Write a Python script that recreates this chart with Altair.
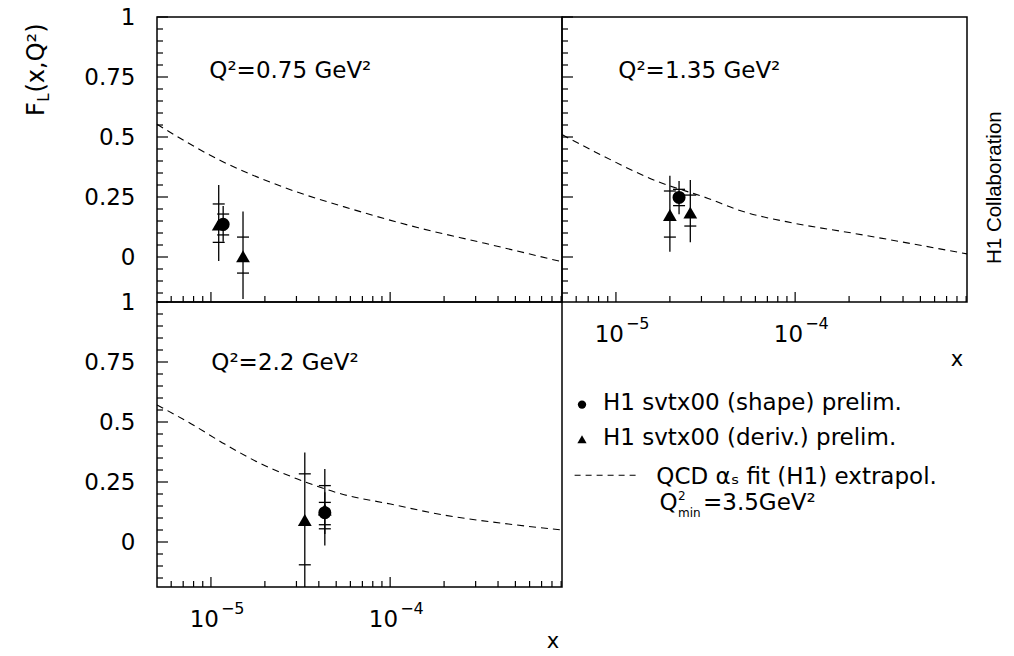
import altair as alt
import pandas as pd

# ---------------- data ----------------
X_DOMAIN = [5e-6, 9.1e-4]
Y_DOMAIN = [-0.1875, 1.0]
W, H = 405, 285

PANEL_IDS = ["a", "b", "c"]
PANEL_TEXT = ["Q²=0.75 GeV²", "Q²=1.35 GeV²", "Q²=2.2 GeV²"]

# dashed QCD fit curves
curve_a_x = [5e-6, 1.143e-5, 2.58e-5, 6.08e-5, 1.436e-4, 3.38e-4, 9.1e-4]
curve_a_y = [0.553, 0.40, 0.289, 0.20, 0.122, 0.057, -0.02]
curve_b_x = [5e-6, 7.6e-6, 1.718e-5, 3.27e-5, 4.81e-5, 1.0e-4, 2.07e-4, 9.1e-4]
curve_b_y = [0.51, 0.439, 0.314, 0.244, 0.196, 0.14, 0.10, 0.013]
curve_c_x = [5e-6, 7.78e-6, 1.194e-5, 1.832e-5, 3.04e-5, 5.36e-5, 1.005e-4, 1.936e-4, 4.57e-4, 9.1e-4]
curve_c_y = [0.571, 0.492, 0.408, 0.332, 0.2625, 0.20, 0.158, 0.114, 0.075, 0.05]

# measurements
pt_panel = ["a", "a", "a", "b", "b", "b", "c", "c", "c"]
pt_series = ["deriv", "shape", "deriv", "deriv", "shape", "deriv", "deriv", "deriv", "shape"]
pt_x = [1.105e-5, 1.17e-5, 1.51e-5, 2.0e-5, 2.25e-5, 2.6e-5, 3.34e-5, 4.32e-5, 4.32e-5]
pt_y = [0.135, 0.136, 0.003, 0.175, 0.248, 0.185, 0.092, 0.135, 0.122]
pt_tot_lo = [-0.017, 0.064, -0.175, 0.022, 0.178, 0.061, -0.19, -0.015, 0.033]
pt_tot_hi = [0.30, 0.2125, 0.19, 0.339, 0.317, 0.321, 0.373, 0.304, 0.207]
pt_stat_lo = [0.061, 0.092, -0.067, 0.083, 0.214, 0.129, -0.095, 0.055, 0.072]
pt_stat_hi = [0.221, 0.179, 0.083, 0.275, 0.282, 0.258, 0.284, 0.235, 0.165]

# axis ticks and tick labels
Y_MAJOR = [0, 0.25, 0.5, 0.75, 1.0]
Y_MINOR = [-0.15, -0.1, -0.05, 0.05, 0.1, 0.15, 0.2, 0.3, 0.35, 0.4, 0.45,
           0.55, 0.6, 0.65, 0.7, 0.8, 0.85, 0.9, 0.95]
X_MAJOR = [1e-5, 1e-4]
X_LABEL_BASE = ["10", "10"]
X_LABEL_EXP = ["−5", "−4"]
X_MINOR = [6e-6, 7e-6, 8e-6, 9e-6,
           2e-5, 3e-5, 4e-5, 5e-5, 6e-5, 7e-5, 8e-5, 9e-5,
           2e-4, 3e-4, 4e-4, 5e-4, 6e-4, 7e-4, 8e-4, 9e-4]

LEGEND_TEXT = ["H1 svtx00 (shape) prelim.", "H1 svtx00 (deriv.) prelim."]
FIT_TEXT = "QCD αₛ fit (H1) extrapol."
QMIN_TEXT = ["Q", "2", "min", "=3.5GeV²"]
YTITLE = ["F", "L", "(x,Q²)"]
SIDE_TEXT = "H1 Collaboration"
XTITLE = "x"

points = pd.DataFrame({
    "panel": pt_panel, "series": pt_series, "x": pt_x, "y": pt_y,
    "tot_lo": pt_tot_lo, "tot_hi": pt_tot_hi,
    "stat_lo": pt_stat_lo, "stat_hi": pt_stat_hi,
})
xlabels = pd.DataFrame({"v": X_MAJOR, "base": X_LABEL_BASE, "exp": X_LABEL_EXP})

FONT = "DejaVu Sans"


def txt(s, x, y, size, align="left", angle=0, font=FONT, baseline="alphabetic"):
    kw = dict(align=align, baseline=baseline, font=font, fontSize=size, color="black")
    if angle:
        kw["angle"] = angle
    return alt.Chart(pd.DataFrame({"t": [s]})).mark_text(**kw).encode(
        x=alt.value(x), y=alt.value(y), text="t:N")


def panel(i, cx, cy, x_labels, y_labels, qpos, extras):
    pid = PANEL_IDS[i]
    xsc = alt.Scale(type="log", domain=X_DOMAIN, nice=False)
    ysc = alt.Scale(domain=Y_DOMAIN, nice=False, zero=False)
    if y_labels:
        yax = alt.Axis(values=Y_MAJOR, format=".2~f", ticks=False, tickSize=0, domain=False,
                       grid=False, labelPadding=22, labelFont=FONT, labelFontSize=23,
                       labelColor="black", labelFlush=False, labelOverlap=False, title="")
    else:
        yax = None

    def X(f):
        return alt.X(f, scale=xsc, axis=None)

    def Y(f):
        return alt.Y(f, scale=ysc, axis=yax)

    cdf = pd.DataFrame({"x": cx, "y": cy})
    curve = alt.Chart(cdf).mark_line(color="black", strokeWidth=1.1, strokeDash=[7, 5],
                                     interpolate="monotone").encode(x=X("x:Q"), y=Y("y:Q"))
    pdf = points[points.panel == pid]
    bars = alt.Chart(pdf).mark_rule(color="black", strokeWidth=1.3, clip=True).encode(
        x=X("x:Q"), y=Y("tot_lo:Q"), y2="tot_hi:Q")
    caps = alt.Chart(pdf).transform_fold(["stat_lo", "stat_hi"], as_=["k", "v"]).mark_point(
        shape="stroke", filled=False, size=144, strokeWidth=1.3, color="black", opacity=1
    ).encode(x=X("x:Q"), y=Y("v:Q"))
    circ = alt.Chart(pdf).transform_filter(alt.datum.series == "shape").mark_point(
        shape="circle", filled=True, size=170, color="black", opacity=1
    ).encode(x=X("x:Q"), y=Y("y:Q"))
    tri = alt.Chart(pdf).transform_filter(alt.datum.series == "deriv").mark_point(
        shape="triangle-up", filled=True, size=190, color="black", opacity=1
    ).encode(x=X("x:Q"), y=Y("y:Q"))

    ymaj = alt.Chart(pd.DataFrame({"v": Y_MAJOR})).mark_rule(color="black", strokeWidth=1.2).encode(
        y=Y("v:Q"), x=alt.value(0), x2=alt.value(11))
    ymin = alt.Chart(pd.DataFrame({"v": Y_MINOR})).mark_rule(color="black", strokeWidth=1.2).encode(
        y=Y("v:Q"), x=alt.value(0), x2=alt.value(6))
    xmaj = alt.Chart(pd.DataFrame({"v": X_MAJOR})).mark_rule(color="black", strokeWidth=1.2).encode(
        x=X("v:Q"), y=alt.value(H), y2=alt.value(H - 10))
    xmin = alt.Chart(pd.DataFrame({"v": X_MINOR})).mark_rule(color="black", strokeWidth=1.2).encode(
        x=X("v:Q"), y=alt.value(H), y2=alt.value(H - 6))

    layers = [curve, bars, caps, circ, tri, ymaj, ymin, xmaj, xmin]
    if x_labels:
        base = alt.Chart(xlabels).mark_text(align="right", baseline="alphabetic", dx=8,
                                            font=FONT, fontSize=23, color="black").encode(
            x=X("v:Q"), y=alt.value(H + 39.5), text="base:N")
        exp = alt.Chart(xlabels).mark_text(align="left", baseline="alphabetic", dx=10,
                                           font=FONT, fontSize=16, color="black").encode(
            x=X("v:Q"), y=alt.value(H + 27), text="exp:N")
        layers += [base, exp]

    qtext = txt(PANEL_TEXT[i], qpos[0], qpos[1], 23)
    return alt.layer(*layers, qtext, *extras).properties(width=W, height=H)


# invisible element fixing the chart's top-left corner
anchor = alt.Chart(pd.DataFrame({"k": [0]})).mark_rule(strokeOpacity=0, strokeWidth=0.01).encode(
    x=alt.value(-156), x2=alt.value(0), y=alt.value(-16))

ytitle = [
    txt(YTITLE[0], -112.7, 99, 24, angle=270),
    txt(YTITLE[1], -108.0, 84.7, 15, angle=270),
    txt(YTITLE[2], -112.7, 75.5, 24, angle=270),
]

A = panel(0, curve_a_x, curve_a_y, False, True, (52.3, 61), [anchor] + ytitle)
B = panel(1, curve_b_x, curve_b_y, True, False, (56.3, 61), [
    txt(SIDE_TEXT, 439.3, 247, 20.5, angle=270, font="Liberation Sans"),
    txt(XTITLE, 401.3, 349, 21, align="right"),
])
C = panel(2, curve_c_x, curve_c_y, True, True, (54.3, 68.3), [
    txt(XTITLE, 402.3, 346.3, 21, align="right"),
])

# legend cell
ld = pd.DataFrame({"k": [0]})
leg_circle = alt.Chart(ld).mark_point(shape="circle", filled=True, size=70, color="black", opacity=1).encode(
    x=alt.value(20), y=alt.value(102.6))
leg_tri = alt.Chart(ld).mark_point(shape="triangle-up", filled=True, size=85, color="black", opacity=1).encode(
    x=alt.value(20), y=alt.value(137.3))
leg_line = alt.Chart(ld).mark_rule(color="black", strokeWidth=1.1, strokeDash=[6, 5]).encode(
    x=alt.value(12.6), x2=alt.value(77.6), y=alt.value(173.3))
L = alt.layer(
    leg_circle, leg_tri, leg_line,
    txt(LEGEND_TEXT[0], 41, 108.3, 23),
    txt(LEGEND_TEXT[1], 41, 142.6, 23),
    txt(FIT_TEXT, 94.3, 181.6, 23),
    txt(QMIN_TEXT[0], 97.6, 208.3, 23),
    txt(QMIN_TEXT[1], 116.0, 197.5, 12),
    txt(QMIN_TEXT[2], 116.0, 215.0, 12),
    txt(QMIN_TEXT[3], 141.0, 208.3, 23),
).properties(width=W, height=H, view=alt.ViewBackground(strokeOpacity=0))

chart = alt.concat(A, B, C, L, columns=2, spacing=0, bounds="flush", align="each").properties(
    padding=0
).configure_view(stroke="black", strokeWidth=1.5)

chart.save("out.html", embed_options={"renderer": "svg", "actions": False})
